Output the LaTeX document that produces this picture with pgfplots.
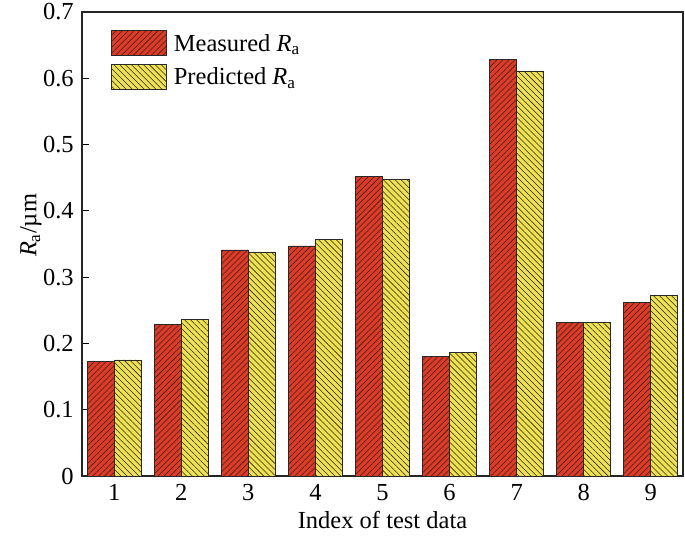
\documentclass[border=0pt]{standalone}
\usepackage{pgfplots}
\pgfplotsset{compat=1.18}
\usepackage{fontspec}
\setmainfont{Liberation Serif}
\usetikzlibrary{patterns.meta}
\definecolor{barred}{RGB}{222,58,40}
\definecolor{baryellow}{RGB}{236,226,82}
\definecolor{hatch}{RGB}{50,35,25}
\definecolor{edge}{RGB}{40,40,40}
\begin{document}
\fontsize{24.5}{28}\selectfont
\begin{tikzpicture}
\begin{axis}[
  scale only axis,
  width=601pt, height=464pt,
  ybar=0pt, bar width=27pt,
  xmin=0.52, xmax=9.48,
  ymin=0, ymax=0.7,
  xtick={1,2,3,4,5,6,7,8,9},
  ytick={0,0.1,0.2,0.3,0.4,0.5,0.6,0.7},
  yticklabels={0,0.1,0.2,0.3,0.4,0.5,0.6,0.7},
  xtick style={draw=none},
  ytick pos=left,
  tick align=inside,
  major tick length=7pt,
  tick style={line width=0.9pt, black},
  axis line style={line width=1.1pt, black!85},
  /pgf/number format/assume math mode=true,
  ticklabel style={font=\fontsize{24.5}{28}\selectfont},
  xlabel={Index of test data},
  ylabel={\textit{R}\textsubscript{a}/µm},
  xlabel style={at={(axis description cs:0.5,-0.095)}, anchor=center},
  ylabel style={at={(axis description cs:-0.085,0.54)}, anchor=center},
  legend cell align=left,
  legend style={draw=none, fill=none, at={(axis description cs:0.043,0.966)}, anchor=north west,
    row sep=7pt, font=\fontsize{24.5}{28}\selectfont},
  legend image code/.code={\draw[#1] (0pt,-11pt) rectangle (55pt,14pt); \path (60pt,0pt);},
]
\addplot[fill=barred, draw=edge, line width=0.8pt,
  postaction={pattern={Lines[angle=45,distance=4.2pt,line width=0.55pt]}, pattern color=hatch}]
  coordinates {(1,0.173) (2,0.229) (3,0.341) (4,0.347) (5,0.452) (6,0.180) (7,0.628) (8,0.232) (9,0.262)};
\addplot[fill=baryellow, draw=edge, line width=0.8pt,
  postaction={pattern={Lines[angle=-45,distance=4.2pt,line width=0.55pt]}, pattern color=hatch}]
  coordinates {(1,0.175) (2,0.236) (3,0.338) (4,0.357) (5,0.448) (6,0.186) (7,0.611) (8,0.232) (9,0.272)};
\legend{Measured \textit{R}\textsubscript{a}, Predicted \textit{R}\textsubscript{a}}
\end{axis}
\path (current axis.south west) ++(-82pt,-69pt) coordinate (bbsw);
\path (current axis.north east) ++(2pt,12pt) coordinate (bbne);
\pgfresetboundingbox
\useasboundingbox (bbsw) rectangle (bbne);
\end{tikzpicture}
\end{document}
